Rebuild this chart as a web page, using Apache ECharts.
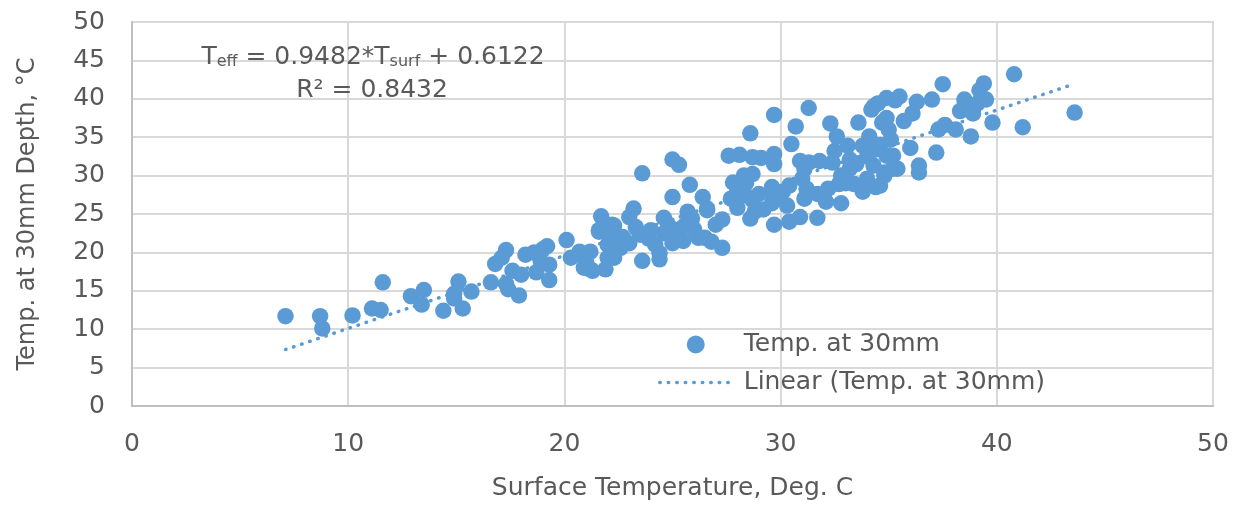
<!DOCTYPE html>
<html>
<head>
<meta charset="utf-8">
<script src="https://cdn.jsdelivr.net/npm/echarts@6.0.0/dist/echarts.min.js"></script>
<style>
  html, body { margin: 0; padding: 0; background: #ffffff; }
  #chart { width: 1239px; height: 506px; }
</style>
</head>
<body>
<div id="chart"></div>
<script>
// Surface temperature (x) and temperature at 30 mm depth (y)
const surfaceTemp = [
  7.1, 8.7, 8.8, 10.2, 11.6, 11.1, 11.5, 12.9, 13.5, 13.4, 14.4, 15.1, 14.9, 14.9, 15.3, 15.7,
  16.6, 16.8, 17.3, 17.1, 17.3, 17.6, 17.9, 18.0, 18.2, 18.6, 18.7, 19.0, 19.2, 19.3, 19.3, 18.9,
  20.1, 20.3, 20.7, 20.9, 21.0, 17.4, 21.2, 21.7, 21.6, 22.0, 22.2, 22.1, 23.0, 22.3, 21.6, 23.2,
  24.6, 25.7, 26.6, 24.0, 23.5, 23.0, 22.2, 22.0, 21.2, 21.3, 21.9, 22.3, 23.6, 24.4, 24.4, 25.0,
  25.4, 26.2, 23.6, 25.0, 25.3, 25.8, 25.0, 26.4, 22.7, 23.9, 24.6, 25.2, 25.6, 24.8, 23.3, 25.9,
  24.2, 26.0, 25.5, 22.6, 29.7, 31.3, 28.6, 30.7, 27.6, 28.1, 28.7, 29.1, 29.7, 30.5, 29.7, 30.9,
  27.8, 28.3, 28.7, 28.0, 27.7, 28.4, 28.7, 28.6, 28.8, 29.6, 29.7, 30.1, 30.4, 29.6, 30.3, 29.7,
  30.4, 30.9, 31.1, 26.6, 27.0, 26.5, 27.3, 26.8, 31.0, 27.3, 28.0, 29.2, 29.0, 28.4, 32.3, 33.6,
  32.6, 33.1, 32.5, 34.5, 34.9, 35.3, 34.2, 34.1, 34.7, 35.1, 33.8, 34.4, 34.9, 35.4, 34.8, 34.3,
  34.0, 34.4, 33.8, 33.4, 33.2, 33.2, 32.4, 31.8, 31.3, 31.1, 31.2, 31.7, 32.2, 32.7, 32.1, 32.8,
  31.7, 33.5, 34.0, 32.8, 34.6, 35.0, 33.0, 37.5, 35.5, 36.3, 37.0, 38.5, 38.3, 38.9, 36.1, 35.7,
  34.9, 38.1, 38.8, 37.3, 37.6, 36.0, 37.2, 36.4, 36.4, 35.2, 35.2, 34.8, 34.6, 40.8, 39.4, 39.2,
  39.5, 39.1, 39.8, 41.2, 43.6, 38.9, 34.3
];
const depthTemp = [
  11.7, 11.7, 10.1, 11.8, 16.1, 12.7, 12.5, 14.3, 15.1, 13.2, 12.4, 16.2, 14.6, 14.0, 12.7, 14.9,
  16.1, 18.5, 20.3, 19.3, 15.9, 17.6, 14.4, 17.1, 19.7, 20.0, 17.4, 20.4, 20.8, 16.4, 18.4, 18.9,
  21.6, 19.3, 20.1, 18.0, 18.8, 15.2, 17.8, 24.7, 22.7, 19.3, 23.6, 21.5, 24.6, 23.5, 22.9, 25.7,
  24.5, 25.3, 25.7, 22.9, 22.3, 21.2, 22.3, 21.0, 20.1, 17.6, 17.8, 19.3, 18.9, 19.9, 19.1, 21.2,
  23.1, 21.9, 30.3, 32.1, 31.4, 28.8, 27.2, 27.2, 22.0, 21.8, 22.5, 22.0, 23.6, 23.6, 23.3, 24.4,
  21.0, 23.0, 21.5, 20.6, 37.9, 38.8, 35.5, 36.4, 32.6, 32.7, 32.4, 32.3, 32.8, 34.1, 31.5, 31.9,
  29.1, 30.0, 30.2, 28.1, 27.0, 27.4, 26.8, 24.4, 25.3, 28.5, 27.2, 27.9, 28.7, 26.4, 26.1, 23.6,
  24.0, 24.6, 27.0, 25.5, 23.6, 21.9, 20.6, 21.4, 29.6, 24.3, 25.8, 25.6, 27.6, 29.0, 36.8, 36.9,
  35.1, 33.9, 33.2, 39.4, 40.1, 39.8, 38.6, 35.1, 36.9, 34.7, 33.9, 33.4, 32.6, 30.9, 30.4, 31.3,
  29.6, 28.5, 27.9, 28.9, 30.9, 32.1, 31.7, 31.9, 31.7, 30.9, 28.3, 27.6, 28.3, 28.9, 26.6, 26.4,
  24.5, 31.5, 32.5, 30.0, 34.0, 36.0, 29.0, 41.9, 40.3, 39.6, 39.9, 39.9, 38.4, 38.6, 38.1, 37.1,
  37.5, 36.0, 35.1, 36.0, 36.6, 33.6, 33.0, 31.3, 30.4, 32.6, 30.9, 30.0, 28.7, 43.2, 42.0, 41.1,
  39.9, 39.4, 36.9, 36.3, 38.2, 38.1, 39.0
];
// Linear trendline end points (as drawn)
const trendX = [7.1, 43.6];
const trendY = [7.35, 41.95];
// Axis ticks
const xTicks = [0, 10, 20, 30, 40, 50];
const yTicks = [0, 5, 10, 15, 20, 25, 30, 35, 40, 45, 50];

const blue = '#5b9bd5';
const textGray = '#595959';
const font = '"DejaVu Sans", sans-serif';
const dotted = { color: blue, width: 3.5, type: [0.5, 8], cap: 'round' };

const scatterData = surfaceTemp.map((x, i) => [x, depthTemp[i]]);
const trendData = trendX.map((x, i) => [x, trendY[i]]);

const chart = echarts.init(document.getElementById('chart'), null, { renderer: 'canvas' });
chart.setOption({
  animation: false,
  backgroundColor: '#ffffff',
  textStyle: { fontFamily: font },
  grid: {
    left: 132, right: 26, top: 22, bottom: 96,
    show: true, borderColor: '#d9d9d9', borderWidth: 2, backgroundColor: 'transparent'
  },
  graphic: [
    {
      type: 'text', x: 373, y: 55, z: 10,
      style: {
        text: '{m|T}{s|eff}{m| = 0.9482*T}{s|surf}{m| + 0.6122}',
        align: 'center', verticalAlign: 'middle',
        fill: textGray, fontFamily: font, fontSize: 25,
        rich: {
          m: { fontSize: 25, fill: textGray, fontFamily: font, lineHeight: 30, verticalAlign: 'bottom' },
          s: { fontSize: 16, fill: textGray, fontFamily: font, lineHeight: 14, verticalAlign: 'bottom' }
        }
      }
    },
    {
      type: 'text', x: 372, y: 90, z: 10,
      style: {
        text: 'R² = 0.8432',
        align: 'center', verticalAlign: 'middle',
        fill: textGray, fontFamily: font, fontSize: 25
      }
    }
  ],
  legend: {
    orient: 'vertical',
    left: 653, top: 327,
    itemWidth: 72, itemHeight: 18, itemGap: 13,
    textStyle: { fontSize: 25, color: textGray, fontFamily: font, padding: [0, 0, 0, 7] },
    data: [
      { name: 'Temp. at 30mm' },
      { name: 'Linear (Temp. at 30mm)', itemStyle: { opacity: 0 }, lineStyle: dotted }
    ]
  },
  xAxis: {
    type: 'value', min: xTicks[0], max: xTicks[xTicks.length - 1], interval: 10,
    name: 'Surface Temperature, Deg. C',
    nameLocation: 'middle', nameGap: 70,
    nameTextStyle: { fontSize: 25, color: textGray, fontFamily: font },
    axisLine: { show: true, lineStyle: { color: '#bfbfbf', width: 2 } },
    axisTick: { show: false },
    axisLabel: { fontSize: 25, color: textGray, margin: 26, fontFamily: font },
    splitLine: { show: true, lineStyle: { color: '#d9d9d9', width: 2 } }
  },
  yAxis: {
    type: 'value', min: yTicks[0], max: yTicks[yTicks.length - 1], interval: 5,
    name: 'Temp. at 30mm Depth, °C',
    nameLocation: 'middle', nameGap: 92, nameRotate: 90,
    nameTextStyle: { fontSize: 24, color: textGray, fontFamily: font },
    axisLine: { show: true, lineStyle: { color: '#bfbfbf', width: 2 } },
    axisTick: { show: false },
    axisLabel: { fontSize: 25, color: textGray, margin: 27, fontFamily: font },
    splitLine: { show: true, lineStyle: { color: '#d9d9d9', width: 2 } }
  },
  series: [
    {
      name: 'Temp. at 30mm',
      type: 'scatter',
      symbol: 'circle',
      symbolSize: 16.5,
      itemStyle: { color: blue, opacity: 1 },
      data: scatterData,
      z: 3
    },
    {
      name: 'Linear (Temp. at 30mm)',
      type: 'line',
      symbol: 'none',
      showSymbol: false,
      lineStyle: dotted,
      itemStyle: { color: blue },
      data: trendData,
      z: 2
    }
  ]
});
</script>
</body>
</html>
